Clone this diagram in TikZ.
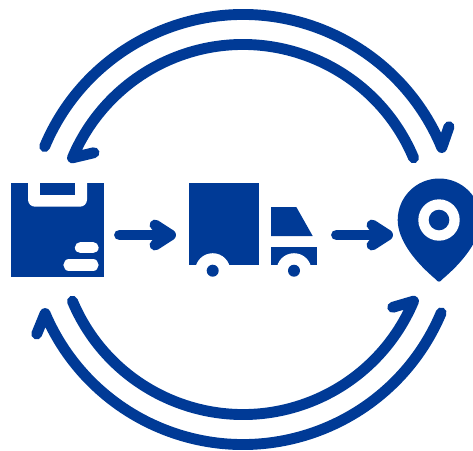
\documentclass[tikz,border=0pt]{standalone}
\usetikzlibrary{calc}
\definecolor{logiblue}{HTML}{003A96}
\tikzset{
  ringline/.style={draw=logiblue, line width=6.2pt, line cap=round, line join=round},
  moveline/.style={draw=logiblue, line width=6.2pt, line cap=round, line join=round},
  cutline/.style={draw=white, line width=6.4pt, line cap=round},
}
\begin{document}
\begin{tikzpicture}[x=0.02cm, y=-0.02cm]
    \clip (0,0) rectangle (473,450);
    \coordinate (C) at (243,229.5);

    % Верхние дуги
    \draw[ringline] ($(C)+(-157.3:215)$) arc[start angle=-157.3, end angle=-22.4, radius=215] -- (449,126.7);
    \draw[ringline] ($(C)+(-22.8:185)$) arc[start angle=-22.8, end angle=-157.2, radius=185] -- (94,152.7);

    % Нижние дуги
    \draw[ringline] ($(C)+(22.8:215)$) arc[start angle=22.8, end angle=157, radius=215] -- (36.7,334);
    \draw[ringline] ($(C)+(157.2:185)$) arc[start angle=157.2, end angle=22.8, radius=185] -- (392.7,307.3);

    % Коробка
    \fill[logiblue] (11,183.3) rectangle (104,276.7);
    \fill[white, rounded corners=4pt] (28,175) -- (28,206.7) -- (87,206.7) -- (87,175) -- cycle;
    \fill[logiblue] (40,183.3) rectangle (75,195);
    \draw[cutline] (80.5,247.7) -- (93,247.7);
    \draw[cutline] (69,265) -- (93,265);

    % Стрелка к машине
    \draw[moveline] (119.5,235) -- (170.5,235);
    \draw[moveline] (155,225) -- (170.5,235) -- (155,245);

    % Машина
    \fill[logiblue] (189.3,183.3) rectangle (259.3,265);
    \fill[logiblue] (271,207) -- (296.3,207) -- (312.7,236) -- (271,236) -- cycle;
    \fill[logiblue] (271,247.3) rectangle (317.3,265);
    \fill[white] (212.7,270.7) circle (17.5);
    \fill[white] (294,270.7) circle (17.5);
    \fill[logiblue] (212.7,270.7) circle (6);
    \fill[logiblue] (294,270.7) circle (6);

    % Стрелка к метке
    \draw[moveline] (336.5,235) -- (387.5,235);
    \draw[moveline] (372,225) -- (387.5,235) -- (372,245);

    % Метка
    \fill[logiblue] (397.7,220) arc[start angle=180, end angle=360, radius=41.5]
        .. controls (480.3,240) and (463,262) .. (442,279.5)
        .. controls (440,282.3) and (438,282.3) .. (436,279.5)
        .. controls (415,262) and (397.7,240) .. (397.7,220) -- cycle;
    \fill[white] (439,220) circle (20.7);
    \fill[logiblue] (439,220) circle (10.3);
\end{tikzpicture}
\end{document}
